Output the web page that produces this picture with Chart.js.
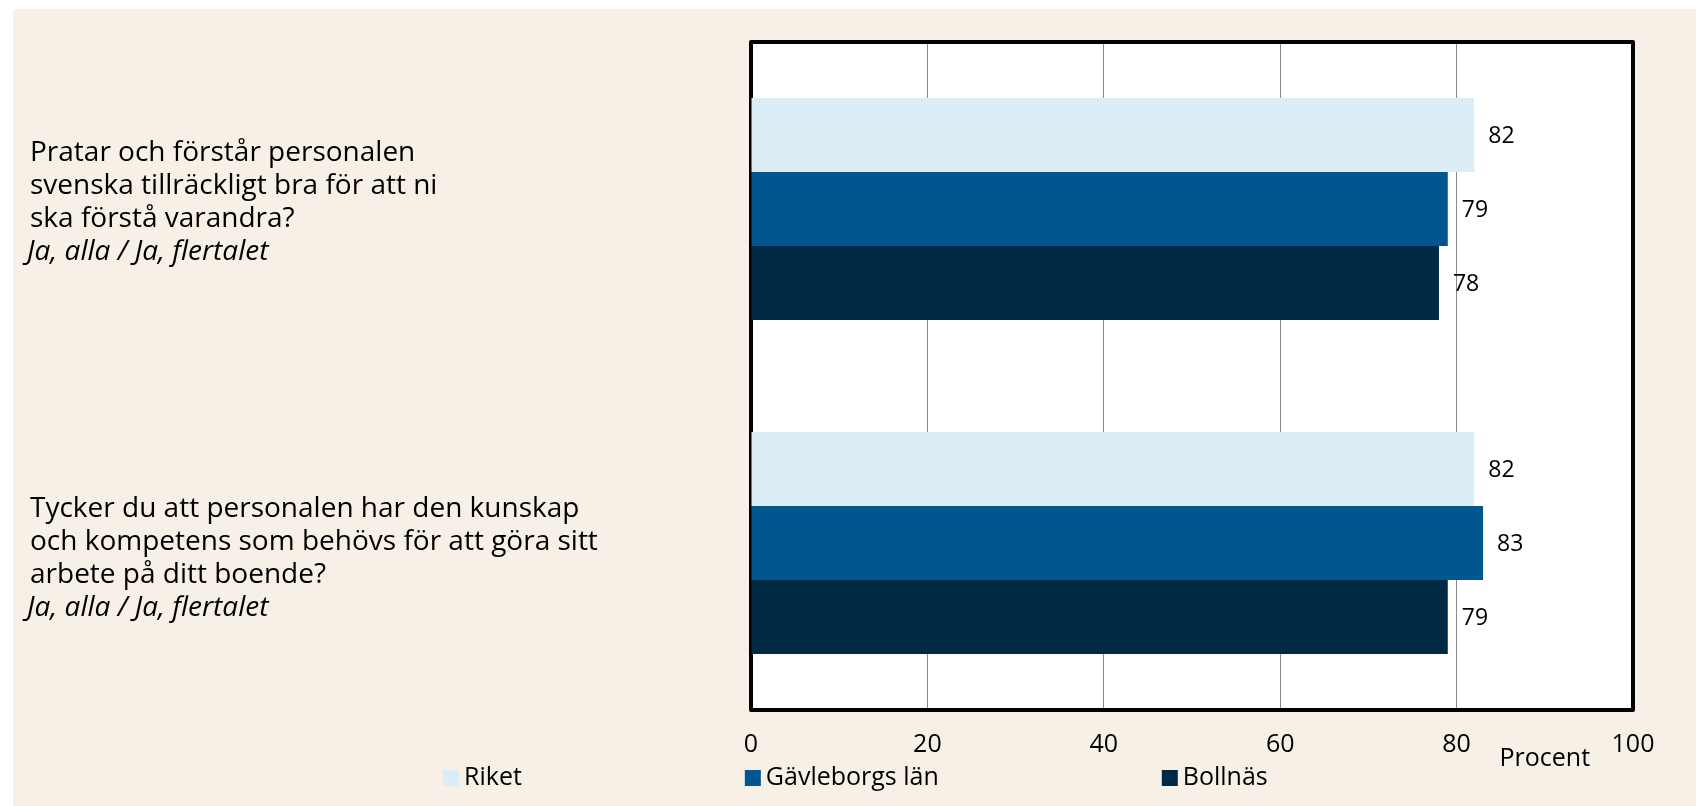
<!DOCTYPE html>
<html lang="sv">
<head>
<meta charset="utf-8">
<title>Personalens språk och kompetens</title>
<script src="https://cdn.jsdelivr.net/npm/chart.js@4.4.1/dist/chart.umd.min.js"></script>
<style>
  html, body { margin: 0; padding: 0; background: #ffffff; }
  canvas { display: block; }
</style>
</head>
<body>
<canvas id="chart" width="1696" height="806"></canvas>
<script>
// data
var questions = [
    ["Pratar och förstår personalen", "svenska tillräckligt bra för att ni", "ska förstå varandra?"],
    ["Tycker du att personalen har den kunskap", "och kompetens som behövs för att göra sitt", "arbete på ditt boende?"]
];
var answers = ["Ja, alla / Ja, flertalet", "Ja, alla / Ja, flertalet"];
var seriesNames = ["Riket", "Gävleborgs län", "Bollnäs"];
var riket = [82, 82];
var gavleborg = [79, 83];
var bollnas = [78, 79];
var xTicks = [0, 20, 40, 60, 80, 100];
var axisTitle = "Procent";

// layout: shift of each question block from its category centre (px)
var questionShift = [-6, 16];

var colors = ["#dcedf5", "#00568f", "#002a44"];
var fontFamily = "'Open Sans', 'Noto Sans', sans-serif";

// beige panel behind everything, white plot area
var panelPlugin = {
    id: 'panel',
    beforeDraw: function (chart) {
        var ctx = chart.ctx;
        var a = chart.chartArea;
        ctx.save();
        ctx.fillStyle = '#ffffff';
        ctx.fillRect(0, 0, chart.width, chart.height);
        ctx.fillStyle = '#f7f0e7';
        ctx.fillRect(13, 9, chart.width - 13, chart.height - 9);
        ctx.fillStyle = '#ffffff';
        ctx.fillRect(a.left, a.top, a.right - a.left, a.bottom - a.top);
        ctx.restore();
    },
    // black frame round the plot, under the bars
    beforeDatasetsDraw: function (chart) {
        var ctx = chart.ctx;
        var a = chart.chartArea;
        ctx.save();
        ctx.strokeStyle = '#000000';
        ctx.lineWidth = 4;
        ctx.lineJoin = 'round';
        ctx.strokeRect(a.left, a.top, a.right - a.left, a.bottom - a.top);
        ctx.restore();
    }
};

// question texts on the left, value labels, axis title and legend
var textPlugin = {
    id: 'texts',
    afterDraw: function (chart) {
        var ctx = chart.ctx;
        var yScale = chart.scales.y;
        var xScale = chart.scales.x;
        ctx.save();
        ctx.fillStyle = '#000000';
        ctx.textBaseline = 'middle';
        ctx.textAlign = 'left';

        var lineH = 33.0;
        questions.forEach(function (lines, i) {
            var all = lines.length + 1;
            var cy = yScale.getPixelForValue(i) + questionShift[i];
            var y0 = cy - (all - 1) * lineH / 2;
            ctx.font = '28px ' + fontFamily;
            lines.forEach(function (t, j) {
                ctx.fillText(t, 30, y0 + j * lineH);
            });
            ctx.font = 'italic 28px ' + fontFamily;
            ctx.fillText(answers[i], 27, y0 + lines.length * lineH);
        });

        // values at the end of the bars
        ctx.font = '23px ' + fontFamily;
        chart.data.datasets.forEach(function (ds, di) {
            var meta = chart.getDatasetMeta(di);
            meta.data.forEach(function (bar, k) {
                ctx.fillText(String(ds.data[k]), bar.x + 14, bar.y + 1);
            });
        });

        // axis title
        ctx.font = '25px ' + fontFamily;
        ctx.textAlign = 'center';
        ctx.fillText(axisTitle, xScale.getPixelForValue(90), 759);

        // legend
        ctx.textAlign = 'left';
        var x = 443;
        var gap = 223;
        seriesNames.forEach(function (name, i) {
            ctx.fillStyle = colors[i];
            ctx.fillRect(x, 770, 16, 16);
            ctx.fillStyle = '#000000';
            var tx = x + 16 + 5;
            ctx.fillText(name, tx, 778);
            x = tx + ctx.measureText(name).width + gap;
        });
        ctx.restore();
    }
};

var labels = questions.map(function (q) { return q.join(' '); });

new Chart(document.getElementById('chart'), {
    type: 'bar',
    data: {
        labels: labels,
        datasets: [
            { label: seriesNames[0], data: riket, backgroundColor: colors[0] },
            { label: seriesNames[1], data: gavleborg, backgroundColor: colors[1] },
            { label: seriesNames[2], data: bollnas, backgroundColor: colors[2] }
        ]
    },
    options: {
        indexAxis: 'y',
        responsive: false,
        animation: false,
        layout: { padding: { left: 751, right: 63, top: 42, bottom: 26 } },
        datasets: {
            bar: { categoryPercentage: 0.665, barPercentage: 1.0 }
        },
        scales: {
            x: {
                min: 0,
                max: 100,
                afterBuildTicks: function (axis) {
                    axis.ticks = xTicks.map(function (v) { return { value: v }; });
                },
                grid: { color: '#8a8a8a', lineWidth: 1, drawTicks: false },
                border: { display: false },
                ticks: {
                    padding: 20,
                    color: '#000000',
                    font: { family: fontFamily, size: 25 }
                }
            },
            y: { display: false }
        },
        plugins: {
            legend: { display: false },
            tooltip: { enabled: false }
        }
    },
    plugins: [panelPlugin, textPlugin]
});
</script>
</body>
</html>
